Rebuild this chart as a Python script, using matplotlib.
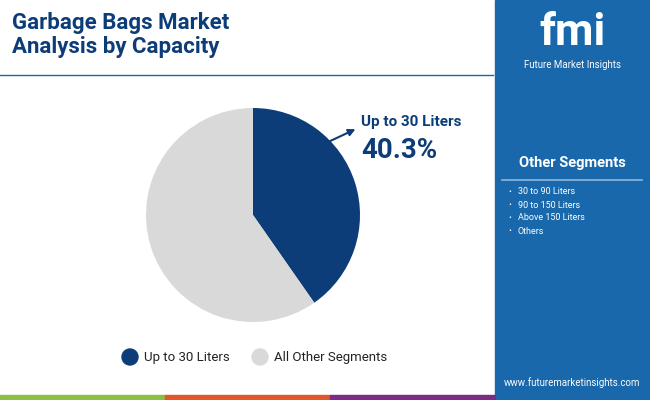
import matplotlib
matplotlib.use("Agg")
import matplotlib.pyplot as plt
from matplotlib.patches import Rectangle, Circle

categories = ["Up to 30 Liters", "All Other Segments"]
values = [40.3, 59.7]
colors = ["#0d3d78", "#d9d9d9"]
other_segments = ["30 to 90 Liters", "90 to 150 Liters", "Above 150 Liters", "Others"]

W, H = 650, 400
fig = plt.figure(figsize=(6.5, 4), dpi=100)
bg = fig.add_axes([0, 0, 1, 1])
bg.set_xlim(0, W); bg.set_ylim(H, 0); bg.axis("off")
F = "Roboto"

# right panel
bg.add_patch(Rectangle((495, 0), 155, 400, color="#1968ab"))
bg.plot([0, 493], [75, 75], color="#1968ab", lw=1)
bg.text(572, 33, "fmi", color="white", fontsize=32, fontweight="bold", ha="center", va="center", family=F)
bg.text(572, 65, "Future Market Insights", color="white", fontsize=7, ha="center", va="center", family=F)
bg.text(572, 163, "Other Segments", color="white", fontsize=10.5, fontweight="bold", ha="center", va="center", family=F)
bg.plot([502, 642], [180, 180], color="#8fb6d8", lw=1.2)
for i, s in enumerate(other_segments):
    y = 192 + i * 13
    bg.text(508, y, "•", color="white", fontsize=6, va="center", family=F)
    bg.text(518, y, s, color="white", fontsize=6.5, va="center", family=F)
bg.text(572, 383, "www.futuremarketinsights.com", color="white", fontsize=7, ha="center", va="center", family=F)

# bottom strip
for x0, c in [(0, "#8bc043"), (165, "#e2562b"), (330, "#7b2d86")]:
    bg.add_patch(Rectangle((x0, 395), 165, 5, color=c))

# title
bg.text(12, 12, "Garbage Bags Market\nAnalysis by Capacity", color="#0d3d78", fontsize=16,
        fontweight="bold", va="top", ha="left", family=F, linespacing=1.1)

# pie
cx, cy, r = 253, 215, 107
ax = fig.add_axes([(cx - r) / W, 1 - (cy + r) / H, 2 * r / W, 2 * r / H])
ax.pie(values, colors=colors, startangle=90, counterclock=False,
       wedgeprops=dict(linewidth=0))
ax.set_xlim(-1, 1); ax.set_ylim(-1, 1)
ax.set_aspect("auto")

# annotation
bg.annotate("", xy=(358, 128), xytext=(326, 143),
            arrowprops=dict(arrowstyle="-|>", color="#0d3d78", lw=1.5))
bg.text(361, 122, categories[0], color="#0d3d78", fontsize=11, fontweight="bold", va="center", family=F)
bg.text(361, 151, f"{values[0]}%", color="#0d3d78", fontsize=20, fontweight="bold", va="center", family=F)

# legend
for x, lab, c in [(130, categories[0], colors[0]), (260, categories[1], colors[1])]:
    bg.add_patch(Circle((x, 357), 8, color=c))
    bg.text(x + 14, 357, lab, color="#222222", fontsize=9.5, va="center", family=F)

fig.savefig("out.png", dpi=100)
